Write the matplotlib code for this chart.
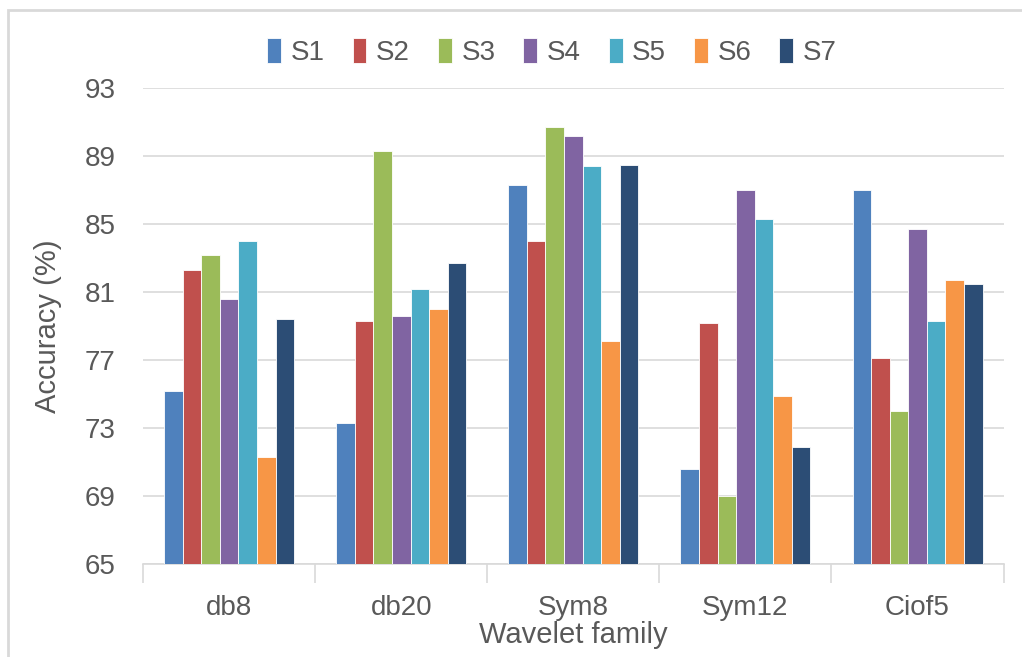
import numpy as np
import matplotlib
matplotlib.use("Agg")
import matplotlib.pyplot as plt
from matplotlib.patches import Rectangle

plt.rcParams['font.family'] = ['Liberation Sans', 'DejaVu Sans']

families = ['db8', 'db20', 'Sym8', 'Sym12', 'Ciof5']
series = ['S1', 'S2', 'S3', 'S4', 'S5', 'S6', 'S7']

s1 = [75.2, 73.3, 87.3, 70.6, 87.0]
s2 = [82.3, 79.3, 84.0, 79.2, 77.1]
s3 = [83.2, 89.3, 90.7, 69.0, 74.0]
s4 = [80.6, 79.6, 90.2, 87.0, 84.7]
s5 = [84.0, 81.2, 88.4, 85.3, 79.3]
s6 = [71.3, 80.0, 78.1, 74.9, 81.7]
s7 = [79.4, 82.7, 88.5, 71.9, 81.5]

colors = ['#4F81BD', '#C0504D', '#9BBB59', '#8064A2', '#4BACC6', '#F79646', '#2C4D75']
text_col = '#595959'

fig = plt.figure(figsize=(10.22, 6.57), dpi=100)
ax = fig.add_axes([0.140, 0.1416, 0.842, 0.724])

# light frame around the chart area
fig.patches.append(Rectangle((8 / 1022, -0.05), 1.1, 1 - 10 / 657 + 0.05,
                             transform=fig.transFigure, fill=False,
                             edgecolor='#D9D9D9', linewidth=2))

x = np.arange(len(families))
w = 0.755 / 7
for k, (name, vals) in enumerate(zip(series, [s1, s2, s3, s4, s5, s6, s7])):
    ax.bar(x + (k - 3) * w, np.array(vals) - 65, bottom=65, width=w,
           color=colors[k], edgecolor='white', linewidth=0.6, label=name, zorder=3)

ax.set_xlim(-0.5, 4.5)
ax.set_ylim(65, 93)
ax.set_yticks(np.arange(65, 94, 4))
ax.grid(axis='y', color='#D9D9D9', linewidth=1.2, zorder=0)
ax.set_xticks(x)
ax.set_xticklabels(families)
ax.set_xticks(np.arange(-0.5, 5, 1), minor=True)
ax.tick_params(axis='x', which='minor', length=14, color='#D9D9D9', width=1.2)
ax.tick_params(axis='x', which='major', length=0, pad=22, labelsize=20, labelcolor=text_col)
ax.tick_params(axis='y', length=0, pad=20, labelsize=20, labelcolor=text_col)

for sp in ['top', 'right', 'left']:
    ax.spines[sp].set_visible(False)
ax.spines['bottom'].set_color('#D9D9D9')
ax.spines['bottom'].set_linewidth(1.2)

ax.set_ylabel('Accuracy (%)', fontsize=21, color=text_col, labelpad=16)
ax.set_xlabel('Wavelet family', fontsize=21, color=text_col, labelpad=0)

ax.legend(loc='center', bbox_to_anchor=(552 / 1022, 1 - 52 / 657),
          bbox_transform=fig.transFigure, ncol=7, frameon=False,
          fontsize=20, labelcolor=text_col, handlelength=0.5, handleheight=1.0,
          handletextpad=0.35, columnspacing=1.0)

fig.savefig('out.png', dpi=100)
